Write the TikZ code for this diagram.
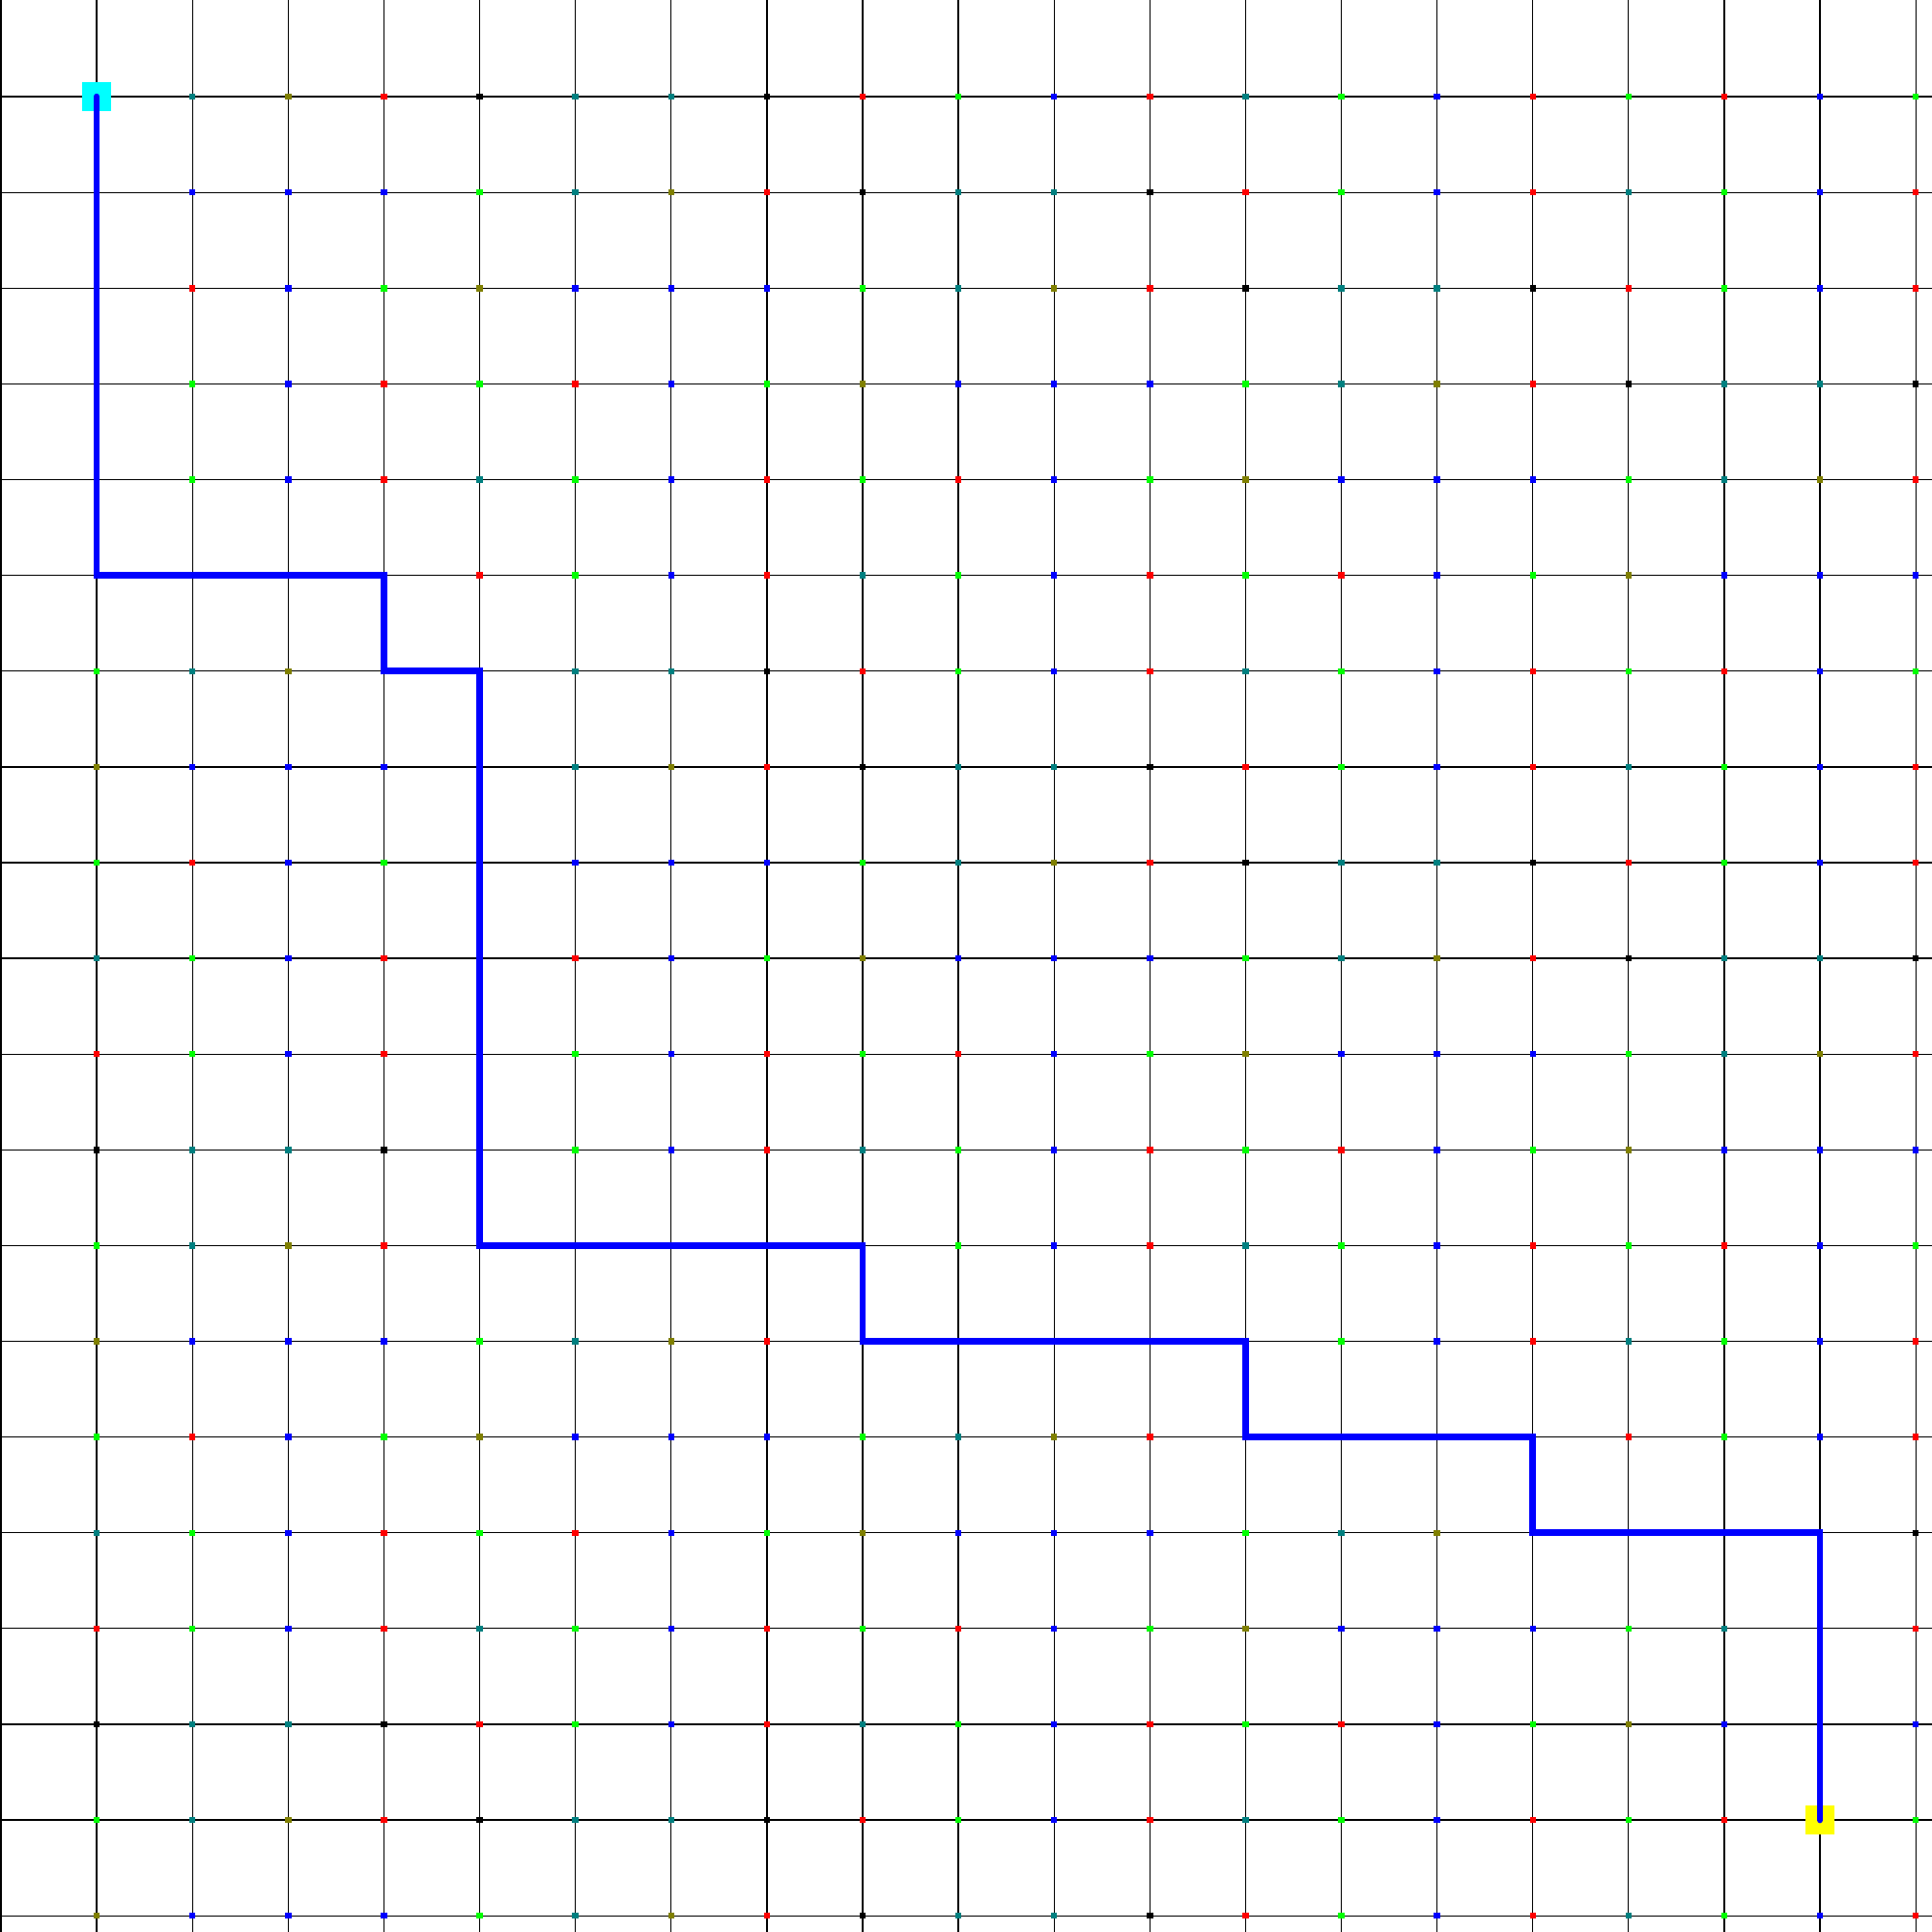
\documentclass[tikz,border=0pt]{standalone}
\definecolor{dotR}{RGB}{255,0,0}
\definecolor{dotG}{RGB}{0,255,0}
\definecolor{dotB}{RGB}{0,0,255}
\definecolor{dotT}{RGB}{0,128,128}
\definecolor{dotO}{RGB}{128,128,0}
\definecolor{dotK}{RGB}{0,0,0}
\definecolor{startcyan}{RGB}{0,255,255}
\definecolor{goalyellow}{RGB}{255,255,0}
\definecolor{routeblue}{RGB}{0,0,255}
\tikzset{
  gridline/.style={black, line width=0.37pt},
  dot/.style={fill=dot#1, inner sep=0pt, minimum size=0.065cm},
  marker/.style={fill=#1, inner sep=0pt, minimum size=0.30cm},
  route/.style={draw=routeblue, line width=1.9pt, line cap=round},
}
\def\nodot{-}
\begin{document}
\begin{tikzpicture}[x=1cm, y=-1cm]
  \useasboundingbox (-0.01,-0.01) rectangle (20.17,20.17);
  % grid
  \foreach \c in {0,...,20} \draw[gridline] (\c,-0.01) -- (\c,20.17);
  \foreach \r in {1,...,20} \draw[gridline] (0,\r) -- (20.17,\r);
  \foreach \r in {1,...,20} \foreach \c in {1,...,20} \coordinate (g-\c-\r) at (\c,\r);
  % coloured points, '-' = none
  \foreach \r/\row in {
    1/{-,T,O,R,K,T,T,K,R,G,B,R,T,G,B,R,G,R,B,G},
    2/{-,B,B,B,G,T,O,R,K,T,T,K,R,G,B,R,T,G,B,R},
    3/{-,R,B,G,O,B,B,B,G,T,O,R,K,T,T,K,R,G,B,R},
    4/{-,G,B,R,G,R,B,G,O,B,B,B,G,T,O,R,K,T,T,K},
    5/{-,G,B,R,T,G,B,R,G,R,B,G,O,B,B,B,G,T,O,R},
    6/{-,-,-,-,R,G,B,R,T,G,B,R,G,R,B,G,O,B,B,B},
    7/{G,T,O,-,-,T,T,K,R,G,B,R,T,G,B,R,G,R,B,G},
    8/{O,B,B,B,-,T,O,R,K,T,T,K,R,G,B,R,T,G,B,R},
    9/{G,R,B,G,-,B,B,B,G,T,O,R,K,T,T,K,R,G,B,R},
    10/{T,G,B,R,-,R,B,G,O,B,B,B,G,T,O,R,K,T,T,K},
    11/{R,G,B,R,-,G,B,R,G,R,B,G,O,B,B,B,G,T,O,R},
    12/{K,T,T,K,-,G,B,R,T,G,B,R,G,R,B,G,O,B,B,B},
    13/{G,T,O,R,-,-,-,-,-,G,B,R,T,G,B,R,G,R,B,G},
    14/{O,B,B,B,G,T,O,R,-,-,-,-,-,G,B,R,T,G,B,R},
    15/{G,R,B,G,O,B,B,B,G,T,O,R,-,-,-,-,R,G,B,R},
    16/{T,G,B,R,G,R,B,G,O,B,B,B,G,T,O,-,-,-,-,K},
    17/{R,G,B,R,T,G,B,R,G,R,B,G,O,B,B,B,G,T,-,R},
    18/{K,T,T,K,R,G,B,R,T,G,B,R,G,R,B,G,O,B,-,B},
    19/{G,T,O,R,K,T,T,K,R,G,B,R,T,G,B,R,G,R,-,G},
    20/{O,B,B,B,G,T,O,R,K,T,T,K,R,G,B,R,T,G,B,R}} {
    \foreach \cl [count=\c] in \row {
      \ifx\cl\nodot\else \node[dot=\cl] (d-\c-\r) at (g-\c-\r) {}; \fi
    }
  }
  \node[marker=startcyan] (start) at (g-1-1) {};
  \node[marker=goalyellow] (goal) at (g-19-19) {};
  \draw[route] (start.center) |- (g-4-6) |- (g-5-7) |- (g-9-13) |- (g-13-14)
    |- (g-16-15) |- (g-19-16) -- (goal.center);
\end{tikzpicture}
\end{document}
